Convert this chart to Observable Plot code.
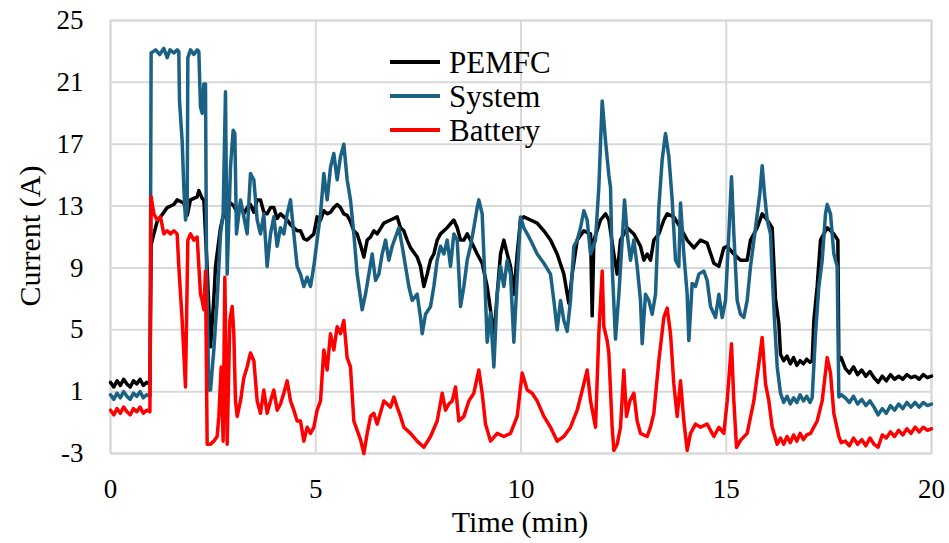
<!DOCTYPE html>
<html><head><meta charset="utf-8">
<script src="https://cdn.jsdelivr.net/npm/d3@7"></script>
<script src="https://cdn.jsdelivr.net/npm/@observablehq/plot@0.6"></script>
<style>
body{margin:0;background:#fff;}
#wrap{position:relative;width:949px;height:543px;font-family:"Liberation Serif","Times New Roman",serif;color:#000;}
.legend{position:absolute;left:390px;top:45px;font-size:31px;line-height:1;}
.legend .row{display:flex;align-items:center;height:34px;}
.legend .sw{display:inline-block;width:50px;height:3.5px;margin-right:9px;}
.title{position:absolute;font-size:30px;white-space:nowrap;line-height:1;}
</style></head><body><div id="wrap"></div>
<script>
const seriesNames = ["PEMFC", "System", "Battery"];
const seriesColors = ["#000000", "#1b6184", "#ff0000"];
const xTicks = [0, 5, 10, 15, 20];
const yTicks = [-3, 1, 5, 9, 13, 17, 21, 25];
const xTitle = "Time (min)";
const yTitle = "Current (A)";

// [time (min), current (A)]
const pemfc = [[0,1.6],[0.08,1.3],[0.16,1.7],[0.24,1.4],[0.32,1.8],[0.4,1.5],[0.48,1.3],[0.56,1.7],[0.64,1.5],[0.72,1.8],[0.8,1.4],[0.88,1.6],[0.96,1.5],
[0.99,10.5],[1.056,11.2],[1.137,12.0],[1.218,12.3],[1.38,12.9],[1.543,13.1],[1.624,13.4],[1.786,13.2],[1.868,12.4],[1.949,13.4],[2.111,13.6],[2.152,14.0],[2.233,13.5],[2.274,13.4],[2.355,9.0],[2.436,3.9],[2.517,7.0],[2.558,9.1],[2.68,11.6],[2.801,12.9],[2.923,13.2],[3.004,13.0],[3.086,12.6],[3.167,13.1],[3.248,12.5],[3.329,12.9],[3.41,13.1],[3.492,12.6],[3.573,13.4],[3.654,13.4],[3.735,12.6],[3.816,12.5],[3.898,12.9],[3.979,12.9],[4.06,12.2],[4.141,12.5],[4.222,12.3],[4.304,12.1],[4.385,11.8],[4.466,11.6],[4.547,11.4],[4.628,11.4],[4.71,10.9],[4.791,10.8],[4.872,11.0],[4.953,11.2],[5.034,12.3],[5.116,12.1],[5.197,12.7],[5.278,12.5],[5.359,12.6],[5.44,12.9],[5.522,13.1],[5.603,12.9],[5.684,12.5],[5.765,12.4],[5.846,12.0],[5.928,11.4],[6.009,11.2],[6.09,10.5],[6.172,9.7],[6.253,10.8],[6.334,11.0],[6.415,11.4],[6.497,11.2],[6.659,11.9],[6.821,12.1],[6.984,12.3],[7.065,11.6],[7.146,11.4],[7.227,10.8],[7.309,10.3],[7.471,9.7],[7.552,9.1],[7.633,7.8],[7.715,8.6],[7.796,9.5],[7.877,9.9],[7.958,10.8],[8.039,11.2],[8.202,11.6],[8.364,12.1],[8.446,11.6],[8.527,10.8],[8.608,10.8],[8.689,11.2],[8.77,10.8],[8.933,9.9],[9.054,9.3],[9.176,7.8],[9.257,6.3],[9.339,4.5],[9.42,7.3],[9.501,9.9],[9.582,10.8],[9.664,9.9],[9.745,9.1],[9.826,7.3],[9.907,9.9],[9.988,12.1],[10.069,12.3],[10.232,12.1],[10.394,11.9],[10.557,11.4],[10.719,10.8],[10.881,9.9],[11.044,8.6],[11.166,6.7],[11.247,8.6],[11.369,10.8],[11.531,11.4],[11.694,11.2],[11.734,5.9],[11.775,10.8],[11.937,12.1],[12.059,12.5],[12.14,12.1],[12.262,9.9],[12.343,8.6],[12.424,10.8],[12.587,11.6],[12.749,11.2],[12.911,10.4],[12.993,9.5],[13.074,9.9],[13.155,9.5],[13.236,10.8],[13.358,11.2],[13.48,12.1],[13.561,12.5],[13.723,12.3],[13.886,11.6],[14.048,10.8],[14.211,10.3],[14.373,10.8],[14.535,10.6],[14.698,9.3],[14.82,9.1],[14.941,10.3],[15.023,10.4],[15.185,9.9],[15.347,9.5],[15.51,9.5],[15.591,10.8],[15.754,11.6],[15.875,12.5],[15.997,12.1],[16.119,11.6],[16.2,7.0],[16.281,5.4],
[16.322,3.4],[16.4,3.0],[16.48,3.3],[16.56,2.8],[16.64,3.2],[16.72,2.7],[16.8,3.0],[16.88,2.8],[16.96,3.1],[17.04,2.9],[17.093,3.0],
[17.134,5.6],[17.215,7.8],[17.296,10.8],[17.377,11.2],[17.459,11.6],[17.54,11.4],[17.621,11.2],[17.719,10.8],[17.743,3.0],[17.8,3.2],
[17.9,2.5],[18.0,2.2],[18.1,2.6],[18.2,2.1],[18.3,2.4],[18.4,2.0],[18.5,2.3],[18.6,1.9],[18.7,1.6],[18.8,2.0],[18.9,1.7],[19.0,2.1],[19.1,1.8],[19.2,2.0],[19.3,1.8],[19.4,2.1],[19.5,1.9],[19.6,2.0],[19.7,1.8],[19.8,2.1],[19.9,1.9],[20.0,2.0]];

const system = [[0,0.8],[0.08,0.5],[0.16,0.9],[0.24,0.6],[0.32,1.0],[0.4,0.7],[0.48,0.5],[0.56,0.9],[0.64,0.7],[0.72,1.0],[0.8,0.6],[0.88,0.8],[0.96,0.7],
[0.99,22.9],[1.1,23.1],[1.2,22.8],[1.3,23.2],[1.38,22.6],[1.45,23.1],[1.543,22.9],[1.624,23.1],[1.664,23.0],[1.681,19.8],[1.746,17.2],[1.786,14.2],[1.827,12.1],[1.868,12.8],[1.884,22.6],[1.949,23.1],[2.03,22.8],[2.111,23.1],[2.152,23.0],[2.192,19.4],[2.233,19.0],[2.274,20.9],[2.314,20.9],[2.339,9.1],[2.395,1.1],[2.436,1.1],[2.517,3.7],[2.598,6.9],[2.68,11.2],[2.744,12.5],[2.801,20.4],[2.842,8.6],[2.923,15.5],[2.988,17.9],[3.029,17.7],[3.069,11.2],[3.167,13.4],[3.248,12.3],[3.329,11.2],[3.41,15.1],[3.492,14.7],[3.573,12.1],[3.654,11.2],[3.735,12.5],[3.816,9.1],[3.898,11.2],[3.979,12.3],[4.06,10.4],[4.141,11.6],[4.222,11.2],[4.304,12.5],[4.385,13.4],[4.466,11.2],[4.547,9.1],[4.628,8.6],[4.71,7.8],[4.791,8.4],[4.872,7.8],[4.953,9.1],[5.034,10.8],[5.116,12.5],[5.197,15.1],[5.278,13.4],[5.359,15.5],[5.44,16.4],[5.522,14.7],[5.603,16.2],[5.684,17.0],[5.765,14.7],[5.846,13.4],[5.928,11.2],[6.009,8.6],[6.131,6.3],[6.212,7.3],[6.294,8.6],[6.375,9.9],[6.456,8.2],[6.537,8.6],[6.618,9.9],[6.7,10.8],[6.781,9.5],[6.862,10.4],[6.943,11.0],[7.024,11.6],[7.106,10.4],[7.187,9.1],[7.268,7.8],[7.349,6.9],[7.471,7.3],[7.552,5.8],[7.593,4.75],[7.674,6.0],[7.796,6.5],[7.877,7.8],[7.958,9.5],[8.039,10.4],[8.121,9.9],[8.202,10.8],[8.283,9.1],[8.364,11.2],[8.446,10.8],[8.527,6.5],[8.608,7.8],[8.689,9.5],[8.77,10.4],[8.851,11.6],[8.933,12.9],[8.973,13.4],[9.054,12.5],[9.095,9.9],[9.176,4.2],[9.257,6.1],[9.339,2.6],[9.42,7.3],[9.501,9.1],[9.582,7.8],[9.664,9.5],[9.745,8.6],[9.826,4.2],[9.907,8.4],[9.988,12.3],[10.069,11.6],[10.151,11.2],[10.232,10.8],[10.394,9.9],[10.557,9.3],[10.719,8.6],[10.8,6.9],[10.881,5.0],[10.963,6.9],[11.044,5.6],[11.125,4.9],[11.206,6.9],[11.287,10.4],[11.369,10.8],[11.45,11.6],[11.531,12.7],[11.612,12.1],[11.694,9.9],[11.815,10.8],[11.896,14.2],[11.978,19.8],[12.059,17.2],[12.14,15.0],[12.181,14.2],[12.221,9.1],[12.302,4.4],[12.384,7.3],[12.465,10.8],[12.522,13.4],[12.587,11.2],[12.668,9.5],[12.749,10.8],[12.83,9.1],[12.911,6.9],[12.952,4.1],[13.033,7.3],[13.114,6.9],[13.196,6.0],[13.277,7.3],[13.358,12.9],[13.439,16.0],[13.52,17.7],[13.602,16.2],[13.683,13.4],[13.764,9.5],[13.845,9.1],[13.886,13.2],[13.967,9.9],[14.048,7.3],[14.089,4.3],[14.17,8.0],[14.251,7.8],[14.332,8.6],[14.454,8.8],[14.535,8.2],[14.617,6.5],[14.738,5.8],[14.82,7.3],[14.901,5.8],[14.982,6.9],[15.063,11.2],[15.128,14.9],[15.185,11.2],[15.266,6.9],[15.347,6.0],[15.429,5.8],[15.51,6.9],[15.591,9.1],[15.713,11.6],[15.818,13.8],[15.875,15.6],[15.932,13.8],[15.997,12.1],[16.078,11.2],[16.119,8.6],[16.176,5.6],[16.241,2.6],
[16.322,0.9],[16.4,0.3],[16.48,0.7],[16.56,0.2],[16.64,0.6],[16.72,0.3],[16.8,0.8],[16.88,0.4],[16.96,0.7],[17.04,0.3],[17.093,0.6],
[17.175,4.75],[17.256,7.8],[17.337,9.5],[17.418,12.5],[17.459,13.1],[17.54,12.5],[17.621,9.9],[17.702,9.1],[17.743,0.65],[17.8,0.8],
[17.9,0.6],[18.0,0.3],[18.1,0.7],[18.2,0.2],[18.3,0.5],[18.4,0.1],[18.5,0.4],[18.6,0.0],[18.7,-0.5],[18.8,-0.1],[18.9,-0.4],[19.0,0.1],[19.1,-0.2],[19.2,0.2],[19.3,-0.1],[19.4,0.3],[19.5,0.0],[19.6,0.3],[19.7,0.0],[19.8,0.3],[19.9,0.1],[20.0,0.2]];

const battery = [[0,-0.2],[0.08,-0.5],[0.16,-0.1],[0.24,-0.4],[0.32,0.0],[0.4,-0.3],[0.48,-0.5],[0.56,-0.1],[0.64,-0.3],[0.72,0.0],[0.8,-0.4],[0.88,-0.2],[0.96,-0.3],
[0.99,13.6],[1.056,12.5],[1.137,12.1],[1.218,12.3],[1.299,11.2],[1.38,11.4],[1.462,11.2],[1.543,11.4],[1.624,11.2],[1.664,9.1],[1.746,5.6],[1.827,1.3],[1.884,10.8],[1.949,11.2],[2.03,10.8],[2.111,11.0],[2.192,7.3],[2.233,6.9],[2.274,6.3],[2.314,8.8],[2.355,-2.4],[2.436,-2.4],[2.517,-2.2],[2.598,-1.9],[2.639,-0.6],[2.696,2.6],[2.744,-2.2],[2.785,8.4],[2.842,-2.4],[2.907,5.6],[2.964,6.5],[3.004,4.75],[3.045,0.4],[3.086,-0.6],[3.167,0.4],[3.248,1.9],[3.329,2.6],[3.41,3.5],[3.492,3.0],[3.573,0.4],[3.654,-0.4],[3.735,1.1],[3.816,-0.4],[3.898,0.4],[3.979,1.1],[4.06,-0.2],[4.141,0.2],[4.222,0.9],[4.304,1.7],[4.385,0.4],[4.466,-0.2],[4.547,-0.9],[4.628,-0.9],[4.71,-2.2],[4.791,-1.3],[4.872,-1.7],[4.953,-1.3],[5.034,-0.2],[5.116,0.4],[5.197,3.7],[5.278,2.4],[5.359,4.75],[5.44,3.7],[5.522,5.2],[5.603,4.75],[5.684,5.6],[5.765,3.2],[5.846,2.6],[5.928,-0.9],[6.009,-1.5],[6.09,-2.1],[6.172,-3.0],[6.253,-1.7],[6.334,-0.6],[6.415,-0.4],[6.497,-1.1],[6.659,0.4],[6.74,0.2],[6.821,0.0],[6.903,0.65],[6.984,0.0],[7.065,-0.6],[7.146,-1.3],[7.309,-1.7],[7.471,-2.2],[7.633,-2.6],[7.796,-1.9],[7.958,-0.9],[8.08,0.9],[8.161,-0.2],[8.242,0.2],[8.324,0.4],[8.405,1.3],[8.486,-0.9],[8.608,-0.6],[8.73,0.4],[8.851,0.9],[8.973,2.4],[9.054,0.9],[9.136,-1.1],[9.257,-2.2],[9.42,-1.7],[9.582,-1.9],[9.745,-1.7],[9.907,-0.6],[10.029,2.2],[10.151,1.1],[10.272,0.9],[10.394,0.4],[10.557,-0.6],[10.719,-1.3],[10.881,-2.2],[11.044,-1.9],[11.206,-1.3],[11.369,-0.2],[11.531,1.5],[11.612,2.4],[11.694,0.4],[11.815,-1.3],[11.896,4.75],[11.978,8.8],[12.018,5.2],[12.099,4.3],[12.14,3.5],[12.221,-1.3],[12.262,-2.8],[12.343,-2.4],[12.424,-1.3],[12.505,2.4],[12.57,-0.6],[12.652,0.4],[12.749,0.9],[12.83,-0.9],[12.911,-1.7],[13.074,-1.9],[13.155,-1.3],[13.236,-0.4],[13.358,3.0],[13.48,5.8],[13.561,6.4],[13.642,4.75],[13.723,1.5],[13.805,-0.6],[13.886,1.7],[13.967,-0.9],[14.048,-2.8],[14.129,-1.7],[14.251,-1.1],[14.373,-1.3],[14.535,-1.1],[14.698,-1.9],[14.82,-1.3],[14.941,-1.7],[15.023,0.4],[15.128,4.1],[15.185,0.4],[15.25,-2.6],[15.347,-2.15],[15.51,-1.7],[15.672,0.4],[15.794,2.8],[15.875,4.5],[15.957,1.5],[16.038,0.4],[16.119,-1.3],
[16.241,-2.4],[16.32,-2.0],[16.4,-2.4],[16.48,-1.9],[16.56,-2.3],[16.64,-1.8],[16.72,-2.2],[16.8,-1.7],[16.88,-2.1],[16.96,-1.8],[17.053,-1.7],
[17.215,-0.9],[17.337,0.4],[17.459,3.2],[17.54,2.2],[17.621,-0.4],[17.743,-1.9],[17.8,-2.3],
[17.9,-2.2],[18.0,-2.5],[18.1,-2.0],[18.2,-2.4],[18.3,-2.1],[18.4,-2.5],[18.5,-2.0],[18.6,-2.4],[18.7,-2.6],[18.8,-1.8],[18.9,-2.0],[19.0,-1.6],[19.1,-1.9],[19.2,-1.5],[19.3,-1.8],[19.4,-1.4],[19.5,-1.7],[19.6,-1.3],[19.7,-1.6],[19.8,-1.3],[19.9,-1.5],[20.0,-1.4]];

const seriesPoints = [pemfc, system, battery];
const rows = seriesPoints.flatMap((pts, k) => pts.map(([t, v]) => ({series: seriesNames[k], time: t, current: v})));

const chart = Plot.plot({
  width: 949, height: 543,
  marginLeft: 110, marginRight: 18, marginTop: 20, marginBottom: 90,
  style: {fontFamily: '"Liberation Serif", "Times New Roman", serif', fontSize: "27px", color: "#000", background: "#fff", overflow: "visible"},
  x: {domain: [0, 20]},
  y: {domain: [-3, 25]},
  color: {domain: seriesNames, range: seriesColors},
  marks: [
    Plot.gridX(xTicks, {stroke: "#d9d9d9", strokeOpacity: 1, strokeWidth: 2}),
    Plot.gridY(yTicks, {stroke: "#d9d9d9", strokeOpacity: 1, strokeWidth: 2}),
    Plot.frame({stroke: "#d9d9d9", strokeWidth: 2}),
    Plot.line(rows, {x: "time", y: "current", z: "series", stroke: "series", strokeWidth: 3.5, strokeLinejoin: "round"}),
    Plot.axisX(xTicks, {tickSize: 0, tickPadding: 25, fontSize: 27, label: null}),
    Plot.axisY(yTicks, {tickSize: 0, tickPadding: 27, fontSize: 27, tickFormat: d => String(d), label: null})
  ]
});
const wrap = document.getElementById("wrap");
wrap.appendChild(chart);

const xt = document.createElement("div");
xt.className = "title";
xt.textContent = xTitle;
xt.style.left = "520px"; xt.style.top = "522px";
xt.style.transform = "translate(-50%,-50%)";
wrap.appendChild(xt);

const yt = document.createElement("div");
yt.className = "title";
yt.textContent = yTitle;
yt.style.left = "30px"; yt.style.top = "236px";
yt.style.transform = "translate(-50%,-50%) rotate(-90deg)";
wrap.appendChild(yt);

const legend = document.createElement("div");
legend.className = "legend";
seriesNames.forEach((name, i) => {
  const row = document.createElement("div");
  row.className = "row";
  const sw = document.createElement("span");
  sw.className = "sw";
  sw.style.background = seriesColors[i];
  const label = document.createElement("span");
  label.textContent = name;
  row.appendChild(sw);
  row.appendChild(label);
  legend.appendChild(row);
});
wrap.appendChild(legend);
</script></body></html>
